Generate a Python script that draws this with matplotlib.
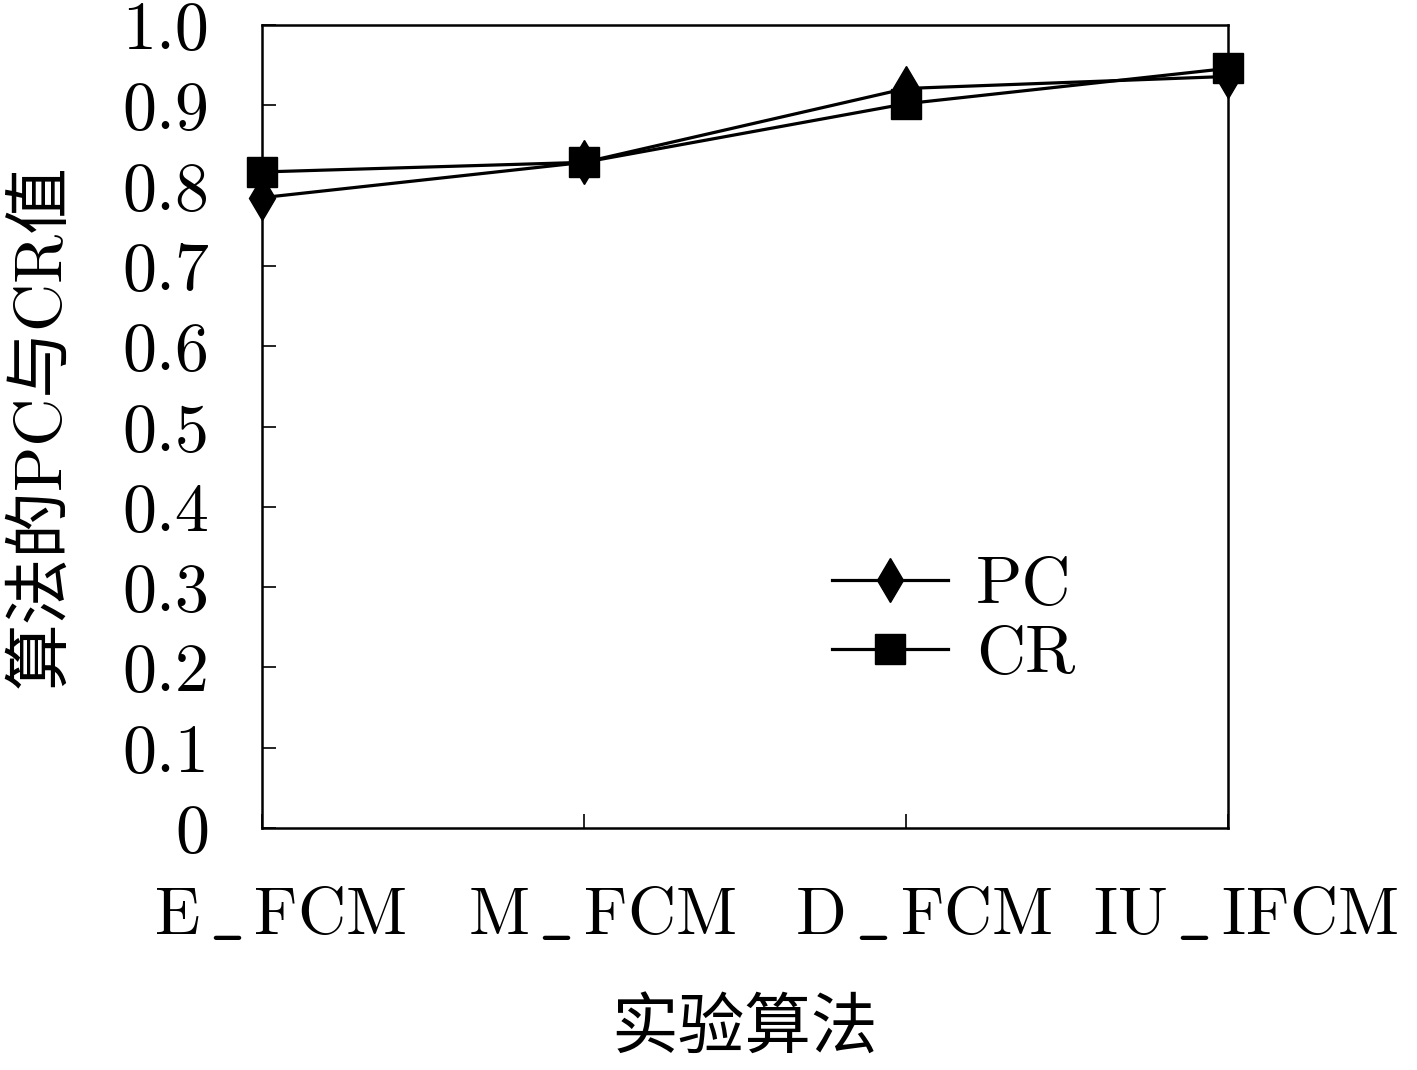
import numpy as np
import matplotlib
matplotlib.use("Agg")
import matplotlib.pyplot as plt
import matplotlib.transforms as mtransforms

plt.rcParams['font.family'] = ['cmr10', 'Noto Sans CJK SC', 'DejaVu Serif']
plt.rcParams['mathtext.fontset'] = 'cm'
plt.rcParams['axes.formatter.use_mathtext'] = True

# data
algorithms = [r'$\mathrm{E\,\_\,FCM}$', r'$\mathrm{M\,\_\,FCM}$', r'$\mathrm{D\,\_\,FCM}$', r'$\mathrm{IU\,\_\,IFCM}$']
pc_values = [0.785, 0.829, 0.921, 0.936]
cr_values = [0.817, 0.829, 0.902, 0.946]
y_ticks = [0, 0.1, 0.2, 0.3, 0.4, 0.5, 0.6, 0.7, 0.8, 0.9, 1.0]
y_labels = ['0', '0.1', '0.2', '0.3', '0.4', '0.5', '0.6', '0.7', '0.8', '0.9', '1.0']

fig = plt.figure(figsize=(14.17, 10.70), dpi=100)
ax = fig.add_axes([0.1849, 0.2262, 0.6817, 0.7504])

x = np.arange(len(algorithms))
ax.plot(x, pc_values, color='black', lw=2.3, marker='d', ms=22, mfc='black',
        label='PC', clip_on=False, zorder=3)
ax.plot(x, cr_values, color='black', lw=2.3, marker='s', ms=21, mfc='black',
        label='CR', clip_on=False, zorder=4)

ax.set_xlim(0, 3)
ax.set_ylim(0, 1.0)
ax.set_xticks(x)
ax.set_xticklabels(algorithms, fontsize=48)
ax.set_yticks(y_ticks)
ax.set_yticklabels(y_labels, fontsize=49)
ax.tick_params(axis='x', direction='in', length=10, width=1.2, pad=43, top=False)
ax.tick_params(axis='y', direction='in', length=10, width=1.2, pad=38, right=False)
for sp in ax.spines.values():
    sp.set_linewidth(1.8)

# category labels sit a bit right of their ticks in the original
shift = mtransforms.ScaledTranslation(0.18, 0, fig.dpi_scale_trans)
for lbl in ax.get_xticklabels():
    lbl.set_transform(lbl.get_transform() + shift)

ax.set_xlabel('实验算法', fontsize=48, labelpad=38)
ax.set_ylabel('算法的PC与CR值', fontsize=48, labelpad=36)

ax.legend(loc='center left', bbox_to_anchor=(0.59, 0.258), frameon=False,
          fontsize=49, handlelength=1.7, handletextpad=0.42, labelspacing=0.12,
          borderpad=0, borderaxespad=0)

fig.savefig('out.png', dpi=100)
